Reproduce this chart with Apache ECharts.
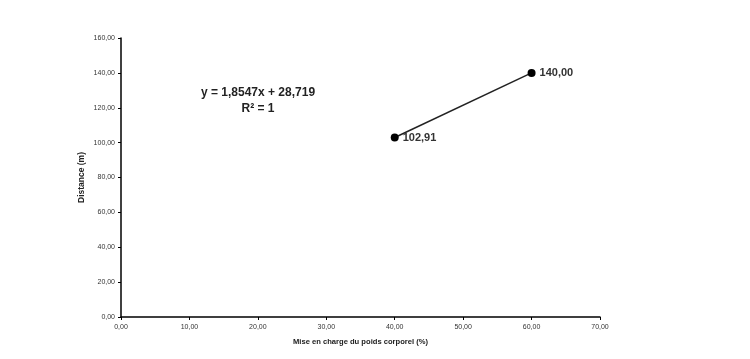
<!DOCTYPE html>
<html><head><meta charset="utf-8">
<script src="https://cdn.jsdelivr.net/npm/echarts@6/dist/echarts.min.js"></script>
<style>html,body{margin:0;padding:0;background:#fff}#c{width:750px;height:359px}</style>
</head><body><div id="c"></div>
<script>
const xValues = [40, 60];
const yValues = [102.91, 140.00];
const xAxisTitle = 'Mise en charge du poids corporel (%)';
const yAxisTitle = 'Distance (m)';
const equationLines = ['y = 1,8547x + 28,719', 'R² = 1'];

const fmt = v => v.toFixed(2).replace('.', ',');
const chart = echarts.init(document.getElementById('c'));
chart.setOption({
  animation: false,
  backgroundColor: '#fff',
  grid: {left: 121, right: 150, top: 38, bottom: 42},
  xAxis: {
    type: 'value', min: 0, max: 70, interval: 10,
    name: xAxisTitle, nameLocation: 'middle', nameGap: 21,
    nameTextStyle: {fontFamily: 'Liberation Sans', fontWeight: 'bold', fontSize: 7.6, color: '#222'},
    axisLine: {lineStyle: {color: '#000', width: 1.5}},
    axisTick: {length: 3, lineStyle: {color: '#000'}},
    axisLabel: {formatter: fmt, fontFamily: 'Liberation Sans', fontSize: 7, color: '#333', margin: 7},
    splitLine: {show: false}
  },
  yAxis: {
    type: 'value', min: 0, max: 160, interval: 20,
    name: yAxisTitle, nameLocation: 'middle', nameGap: 35, nameRotate: 90, nameMoveOverlap: false,
    nameTextStyle: {fontFamily: 'Liberation Sans', fontWeight: 'bold', fontSize: 8.5, color: '#222'},
    axisLine: {show: true, lineStyle: {color: '#000', width: 1.5}},
    axisTick: {show: true, length: 3, lineStyle: {color: '#000'}},
    axisLabel: {formatter: fmt, fontFamily: 'Liberation Sans', fontSize: 7, color: '#333', margin: 6},
    splitLine: {show: false}
  },
  series: [{
    type: 'line',
    data: xValues.map((x, i) => [x, yValues[i]]),
    symbol: 'circle', symbolSize: 8,
    itemStyle: {color: '#000'},
    lineStyle: {color: '#222', width: 1.5},
    label: {show: true, position: 'right', distance: 4, formatter: p => fmt(p.value[1]),
      fontFamily: 'Liberation Sans', fontWeight: 'bold', fontSize: 11, color: '#333'}
  }],
  graphic: [{
    type: 'text',
    x: 258, y: 101,
    style: {text: equationLines.join('\n'), fontFamily: 'Liberation Sans', fontWeight: 'bold', fontSize: 12,
      lineHeight: 16, fill: '#222', align: 'center', verticalAlign: 'middle'}
  }]
});
</script></body></html>
